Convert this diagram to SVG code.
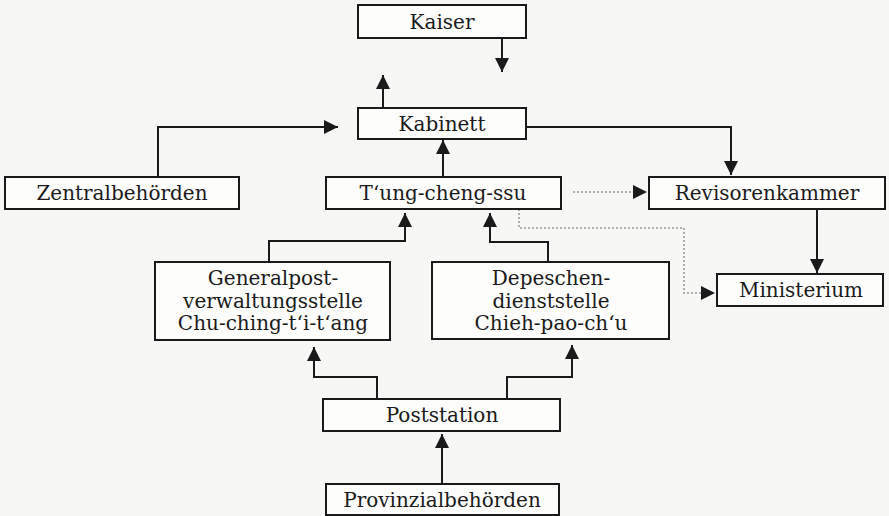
<svg xmlns="http://www.w3.org/2000/svg" width="889" height="516" viewBox="0 0 889 516">
<style>
.box{fill:#fdfdfc;stroke:#1a1a1a;stroke-width:2}
.t{font-family:"DejaVu Serif","Liberation Serif",serif;font-size:20px;fill:#1a1a1a;text-anchor:middle}
.c{fill:none;stroke:#1a1a1a;stroke-width:2}
.d{fill:none;stroke:#999;stroke-width:1.6;stroke-dasharray:2 2}
</style>
<defs>
<marker id="ah" markerUnits="userSpaceOnUse" markerWidth="14" markerHeight="14" refX="14" refY="7" orient="auto" viewBox="0 0 14 14">
<path d="M0,0 L14,7 L0,14 z" fill="#1a1a1a"/>
</marker>
</defs>
<rect width="889" height="516" fill="#f7f7f5"/>
<g id="connectors">
<path class="c" d="M502,38 V72" marker-end="url(#ah)"/>
<path class="c" d="M383,108 V75" marker-end="url(#ah)"/>
<path class="c" d="M158,177 V127 H338" marker-end="url(#ah)"/>
<path class="c" d="M526,127 H731 V175" marker-end="url(#ah)"/>
<path class="c" d="M443,177 V140" marker-end="url(#ah)"/>
<path class="c" d="M269,262 V241 H405 V213" marker-end="url(#ah)"/>
<path class="c" d="M548,262 V242 H490 V213" marker-end="url(#ah)"/>
<path class="c" d="M817,209 V273" marker-end="url(#ah)"/>
<path class="c" d="M377,399 V377 H314 V347" marker-end="url(#ah)"/>
<path class="c" d="M507,399 V377 H572 V345" marker-end="url(#ah)"/>
<path class="c" d="M442,484 V434" marker-end="url(#ah)"/>
<path class="d" d="M573,192 H637"/>
<path d="M633,185 L647,192 L633,199 z" fill="#1a1a1a"/>
<path class="d" d="M519,209 V228 H684 V293 H705"/>
<path d="M701,286 L715,293 L701,300 z" fill="#1a1a1a"/>
</g>
<g id="kaiser"><rect class="box" x="358" y="5" width="168" height="33"/><text class="t" x="442" y="29">Kaiser</text></g>
<g id="kabinett"><rect class="box" x="358" y="108" width="168" height="31"/><text class="t" x="442" y="131">Kabinett</text></g>
<g id="zentralbehoerden"><rect class="box" x="5" y="177" width="234" height="32"/><text class="t" x="122" y="200">Zentralbehörden</text></g>
<g id="tungchengssu"><rect class="box" x="326" y="177" width="235" height="32"/><text class="t" x="443" y="200">T‘ung-cheng-ssu</text></g>
<g id="revisorenkammer"><rect class="box" x="649" y="177" width="236" height="32"/><text class="t" x="767" y="200">Revisorenkammer</text></g>
<g id="generalpost"><rect class="box" x="155" y="262" width="235" height="78"/><text class="t" x="273" y="285">Generalpost-</text><text class="t" x="273" y="308">verwaltungsstelle</text><text class="t" x="273" y="330">Chu-ching-t‘i-t‘ang</text></g>
<g id="depeschen"><rect class="box" x="432" y="262" width="237" height="77"/><text class="t" x="551" y="285">Depeschen-</text><text class="t" x="551" y="308">dienststelle</text><text class="t" x="551" y="330">Chieh-pao-ch‘u</text></g>
<g id="ministerium"><rect class="box" x="717" y="274" width="166" height="32"/><text class="t" x="801" y="297">Ministerium</text></g>
<g id="poststation"><rect class="box" x="323" y="399" width="237" height="32"/><text class="t" x="442" y="422">Poststation</text></g>
<g id="provinzialbehoerden"><rect class="box" x="326" y="484" width="233" height="31"/><text class="t" x="442" y="507">Provinzialbehörden</text></g>
</svg>
